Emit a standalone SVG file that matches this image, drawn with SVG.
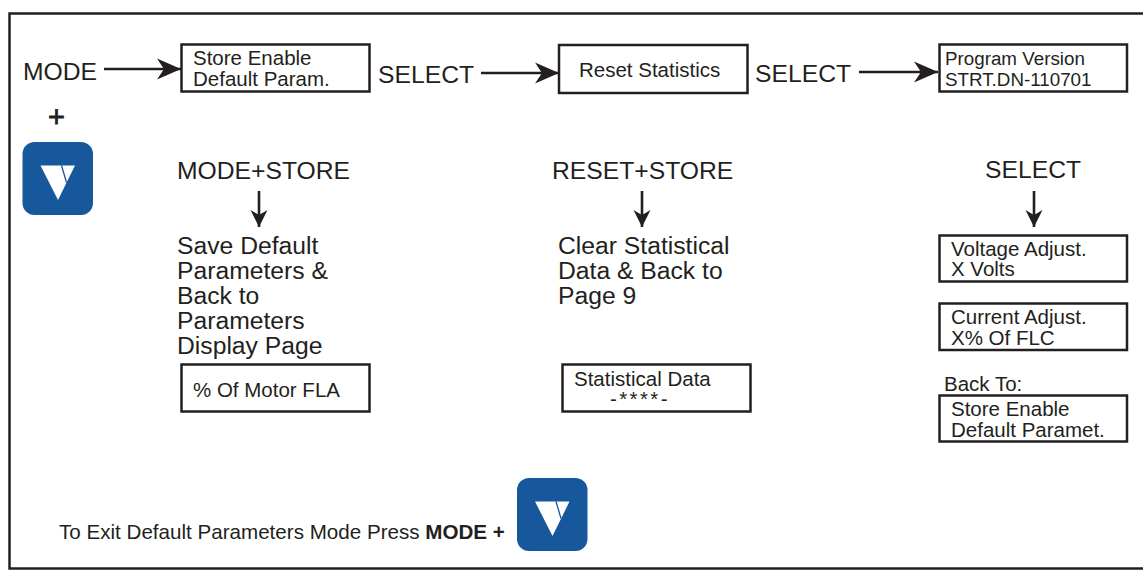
<svg xmlns="http://www.w3.org/2000/svg" xmlns:xlink="http://www.w3.org/1999/xlink" width="1143" height="571" viewBox="0 0 1143 571">
<style>
text{font-family:"Liberation Sans",Arial,sans-serif;fill:#231f20}
.a{font-size:24.7px}
.b{font-size:20.5px}
.p{font-size:18.8px}
.box{fill:#fff;stroke:#231f20;stroke-width:2.5}
.ln{fill:none;stroke:#231f20;stroke-width:2.6}
</style>
<defs>
<marker id="big" markerUnits="userSpaceOnUse" markerWidth="26" markerHeight="24" refX="24" refY="12" orient="auto"><path d="M0 1.500L24 12L0 22.500L7 12Z" fill="#231f20"/></marker>
<marker id="small" markerUnits="userSpaceOnUse" markerWidth="18" markerHeight="20" refX="17" refY="9" orient="auto"><path d="M0 0.500L17 9L0 17.500L5 9Z" fill="#231f20"/></marker>
<g id="key"><rect x="0" y="0" width="70.500" height="73" rx="12" fill="#17579c"/><path d="M18 23.500H52.500L35.500 58Z" fill="#fff"/><path d="M39 23.500L44 40.500" fill="none" stroke="#17579c" stroke-width="1.300"/></g>
</defs>
<rect id="frame" x="9.500" y="13.500" width="1140" height="555" fill="#fff" stroke="#231f20" stroke-width="2.500"/>
<g id="connectors">
<path class="ln" d="M104 69H181" marker-end="url(#big)"/>
<path class="ln" d="M481 73H559" marker-end="url(#big)"/>
<path class="ln" d="M859 72H938" marker-end="url(#big)"/>
<path class="ln" d="M259 191V227" marker-end="url(#small)"/>
<path class="ln" d="M642 191V227" marker-end="url(#small)"/>
<path class="ln" d="M1034 191V227" marker-end="url(#small)"/>
</g>
<g id="mode-label"><text class="a" x="23" y="80">MODE</text><text x="48" y="127" style="font-size:29px;stroke:#231f20;stroke-width:.8">+</text></g>
<use id="key-top" xlink:href="#key" href="#key" x="22.500" y="142"/>
<g id="store-enable"><rect class="box" x="181.500" y="44.500" width="188" height="47"/><text class="b" x="193" y="64.500">Store Enable</text><text class="b" x="193" y="86">Default Param.</text></g>
<g id="select-1"><text class="a" x="378" y="83">SELECT</text></g>
<g id="reset-stats"><rect class="box" x="559" y="45" width="188.500" height="48"/><text class="b" x="579" y="77">Reset Statistics</text></g>
<g id="select-2"><text class="a" x="755" y="82">SELECT</text></g>
<g id="program-version"><rect class="box" x="939.500" y="44.500" width="187.500" height="47"/><text class="p" x="945" y="64.500">Program Version</text><text class="p" x="945" y="86">STRT.DN-110701</text></g>
<g id="mode-store"><text class="a" x="177" y="179">MODE+STORE</text></g>
<g id="reset-store"><text class="a" x="552" y="179">RESET+STORE</text></g>
<g id="select-3"><text class="a" x="985" y="178">SELECT</text></g>
<g id="save-default"><text class="a" x="177" y="254">Save Default</text><text class="a" x="177" y="279">Parameters &amp;</text><text class="a" x="177" y="304">Back to</text><text class="a" x="177" y="329">Parameters</text><text class="a" x="177" y="354">Display Page</text></g>
<g id="clear-stats"><text class="a" x="558" y="254">Clear Statistical</text><text class="a" x="558" y="279">Data &amp; Back to</text><text class="a" x="558" y="304">Page 9</text></g>
<g id="motor-fla"><rect class="box" x="181.500" y="364.500" width="188" height="47"/><text class="b" x="193" y="397">% Of Motor FLA</text></g>
<g id="stat-data"><rect class="box" x="562.500" y="364.500" width="188" height="47"/><text class="b" x="574" y="386">Statistical Data</text><text class="b" x="610" y="406" letter-spacing="2.4">-****-</text></g>
<g id="voltage"><rect class="box" x="939.500" y="235.500" width="187.500" height="46"/><text class="b" x="951" y="255.700">Voltage Adjust.</text><text class="b" x="951" y="275.700">X Volts</text></g>
<g id="current"><rect class="box" x="939.500" y="303.500" width="187.500" height="46.500"/><text class="b" x="951" y="324">Current Adjust.</text><text class="b" x="951" y="344.800">X% Of FLC</text></g>
<g id="back-to"><text class="b" x="944" y="391">Back To:</text><rect class="box" x="939.500" y="395.500" width="187.500" height="46"/><text class="b" x="951" y="416">Store Enable</text><text class="b" x="951" y="436.500">Default Paramet.</text></g>
<g id="exit-note"><text x="59" y="539" style="font-size:20.6px">To Exit Default Parameters Mode Press <tspan font-weight="bold">MODE +</tspan></text></g>
<use id="key-bottom" xlink:href="#key" href="#key" x="517" y="478"/>
</svg>
